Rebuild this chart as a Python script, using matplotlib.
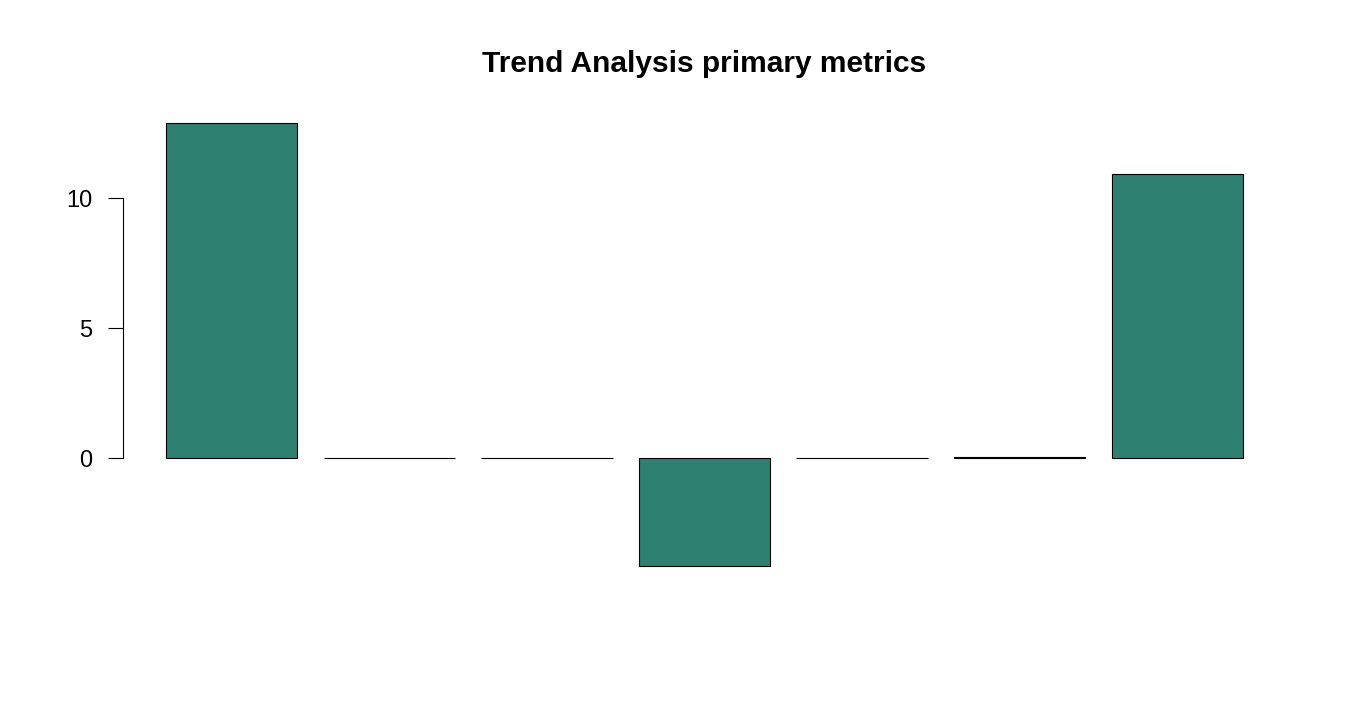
import matplotlib
matplotlib.use("Agg")
from matplotlib import pyplot as plt

values = [12.88, 0.0, 0.0, -4.14, 0.0, 0.04, 10.93]
yticks = [0, 5, 10]
bar_color = "#2E8070"

plt.rcParams['font.family'] = ['Liberation Sans', 'DejaVu Sans']

fig = plt.figure(figsize=[13.5, 7.2], dpi=100)
ax = fig.add_axes([0.0911, 0.1894, 0.8615, 0.6638])

# R barplot layout: width 1, space 0.2
xpos = [0.7 + 1.2 * i for i in range(len(values))]
ax.bar(xpos, values, width=1.0, color=bar_color, edgecolor="black", linewidth=0.8)

lo = min(min(values), 0)
hi = max(max(values), 0)
pad = (hi - lo) * 0.04
ax.set_ylim(lo - pad, hi + pad)
ax.set_xlim(0.2 - 8.2 * 0.04, 8.4 + 8.2 * 0.04)

for s in ["top", "right", "bottom"]:
    ax.spines[s].set_visible(False)
ax.spines["left"].set_bounds(0, 10)
ax.spines["left"].set_linewidth(0.8)
ax.set_xticks([])
ax.set_yticks(yticks)
ax.tick_params(axis="y", length=11, width=0.8, labelsize=17, pad=11)

fig.text(0.5215, 1 - 72 / 720, "Trend Analysis primary metrics", ha="center",
         va="baseline", fontsize=21.5, fontweight="bold")

fig.savefig("out.png", dpi=100)
